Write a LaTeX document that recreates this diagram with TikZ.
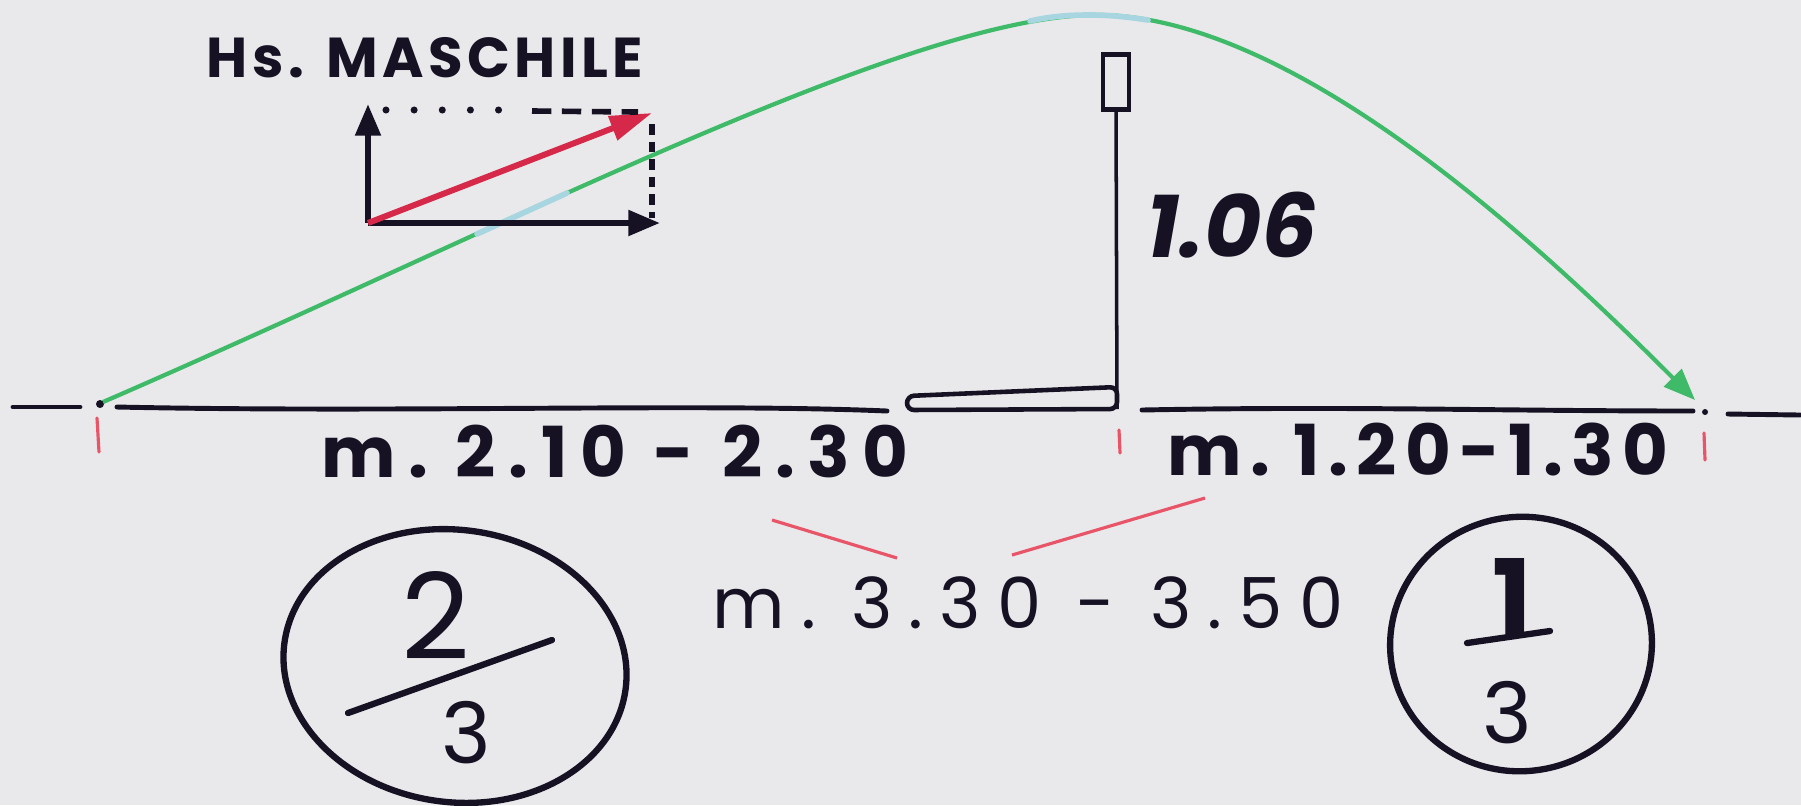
\documentclass[tikz,border=0pt]{standalone}
\usepackage{fontspec}
\setmainfont{Poppins}
\usetikzlibrary{arrows.meta,shapes.geometric}
\definecolor{paper}{RGB}{233,233,235}
\definecolor{ink}{RGB}{22,18,36}
\definecolor{trajgreen}{RGB}{62,186,104}
\definecolor{trajblue}{RGB}{168,214,224}
\definecolor{vecred}{RGB}{214,40,72}
\definecolor{markred}{RGB}{232,84,104}
\tikzset{
  ground/.style={ink, line width=1.4pt, line cap=round},
  tickmark/.style={markred, line width=0.9pt, line cap=round},
  traj/.style={trajgreen, line width=1.2pt, -{Triangle[length=9pt,width=7pt]}},
  trajfade/.style={trajblue, line width=1.6pt, line cap=round},
  vecarrow/.style={ink, line width=1.8pt, -{Triangle[length=9pt,width=7pt]}},
  redvec/.style={vecred, line width=1.7pt, -{Triangle[length=12pt,width=7pt]}},
  redline/.style={markred, line width=0.9pt},
  ring/.style={ellipse, draw=ink, line width=1.8pt, inner sep=0pt},
  lbl/.style={ink, inner sep=0pt, font=\bfseries\fontsize{20}{24}\selectfont\addfontfeature{LetterSpace=18}},
  lblb/.style={ink, inner sep=0pt, font=\bfseries\fontsize{20}{24}\selectfont\addfontfeature{LetterSpace=12}},
  lblthin/.style={ink, inner sep=0pt, font=\fontsize{20}{24}\selectfont\addfontfeature{LetterSpace=23}},
  titlelbl/.style={ink, inner sep=0pt, font=\bfseries\fontsize{16}{19}\selectfont\addfontfeature{LetterSpace=8}},
  hlbl/.style={ink, inner sep=0pt, font=\bfseries\itshape\fontsize{25}{30}\selectfont},
  fraclbl/.style={ink, inner sep=0pt},
}
\begin{document}
\begin{tikzpicture}[x=0.01cm,y=-0.01cm]
\useasboundingbox (0,0) rectangle (1801,805);
\fill[paper] (0,0) rectangle (1801,805);

% ground line
\draw[ground] (13,407) -- (80,407);
\draw[ground] (117,407) .. controls (400,413) and (700,403) .. (887,411);
\draw[ground] (1142,410) .. controls (1350,406) and (1500,411) .. (1693,411);
\draw[ground] (1728,414) -- (1800,415);
\fill[ink] (100,404) circle (4);
\fill[ink] (1705,412) circle (3);
\coordinate (takeoff) at (103,402);
\coordinate (apex) at (1090,15);
\coordinate (landing) at (1695,400);

% take-off board and post
\draw[ink, line width=1.3pt, rounded corners=2pt] (907,396) -- (1117,387) -- (1117,409) -- (907,410) -- cycle;
\node[draw=ink, line width=1.3pt, minimum width=7.4pt, minimum height=15.6pt, inner sep=0pt] (crossbar) at (1116,82) {};
\coordinate (postbase) at (1117,409);
\draw[ink, line width=1pt] (crossbar.south) -- (postbase);
\node[hlbl, anchor=base] (height) at (1232,257) {1.06};

% red ticks
\draw[tickmark] (97,418) -- (99,452);
\draw[tickmark] (1119,430) -- (1120,453);
\draw[tickmark] (1704,433) -- (1705,460);

% trajectory
\draw[traj] (takeoff) .. controls (500,230) and (900,20) .. (apex)
  .. controls (1290,10) and (1540,245) .. (landing);
\draw[trajfade] (1030,21) .. controls (1052,16) and (1070,15) .. (apex)
  .. controls (1110,15) and (1128,17) .. (1148,20);
\draw[trajfade] (477,234) -- (567,193);

% vector diagram
\node[titlelbl, anchor=base] (title) at (425,77) {Hs. MASCHILE};
\coordinate (vo) at (368,223);
\coordinate (vy) at (368,104);
\coordinate (vx) at (660,223);
\coordinate (vr) at (652,113);
\coordinate (vq) at (652,218);
\draw[vecarrow] (vo) -- (vy);
\draw[vecarrow] (vo) -- (vx);
\draw[redvec] (vo) -- (vr);
\draw[ink, line width=2pt, line cap=round, dash pattern=on 0pt off 8pt] (386,110) -- (525,110);
\draw[ink, line width=1.6pt, dash pattern=on 5.5pt off 3pt] (532,111) -- (638,112);
\draw[ink, line width=1.8pt, dash pattern=on 3pt off 2pt] (652,124) -- (vq);

% distance labels
\node[lbl, anchor=base] (run) at (615,477) {m.\ 2.10 - 2.30};
\node[lblb, anchor=base] (flight) at (1418,475) {m.\ 1.20-1.30};
\node[lblthin, anchor=base] (total) at (1028,628) {m.\ 3.30 - 3.50};
\coordinate (ra) at (772,520);
\coordinate (rb) at (897,558);
\coordinate (rc) at (1012,555);
\coordinate (rd) at (1205,498);
\draw[redline] (ra) -- (rb);
\draw[redline] (rc) -- (rd);

% fractions
\node[ring, minimum width=97.9pt, minimum height=77.4pt, rotate=-8] (twothirds) at (455,666) {};
\node[fraclbl, font=\fontsize{34}{40}\selectfont] (two) at (436,615) {2};
\node[fraclbl, font=\fontsize{24}{28}\selectfont] (threeA) at (466,733) {3};
\draw[ink, line width=1.8pt, line cap=round] (348,713) -- (552,640);

\node[ring, minimum width=74.5pt, minimum height=72.3pt, rotate=10] (onethird) at (1521,644) {};
\node[fraclbl, font=\bfseries\fontsize{30}{36}\selectfont] (one) at (1512,597) {1};
\node[fraclbl, font=\fontsize{24}{28}\selectfont] (threeB) at (1507,713) {3};
\draw[ink, line width=1.8pt, line cap=round] (1467,643) -- (1550,631);
\end{tikzpicture}
\end{document}
